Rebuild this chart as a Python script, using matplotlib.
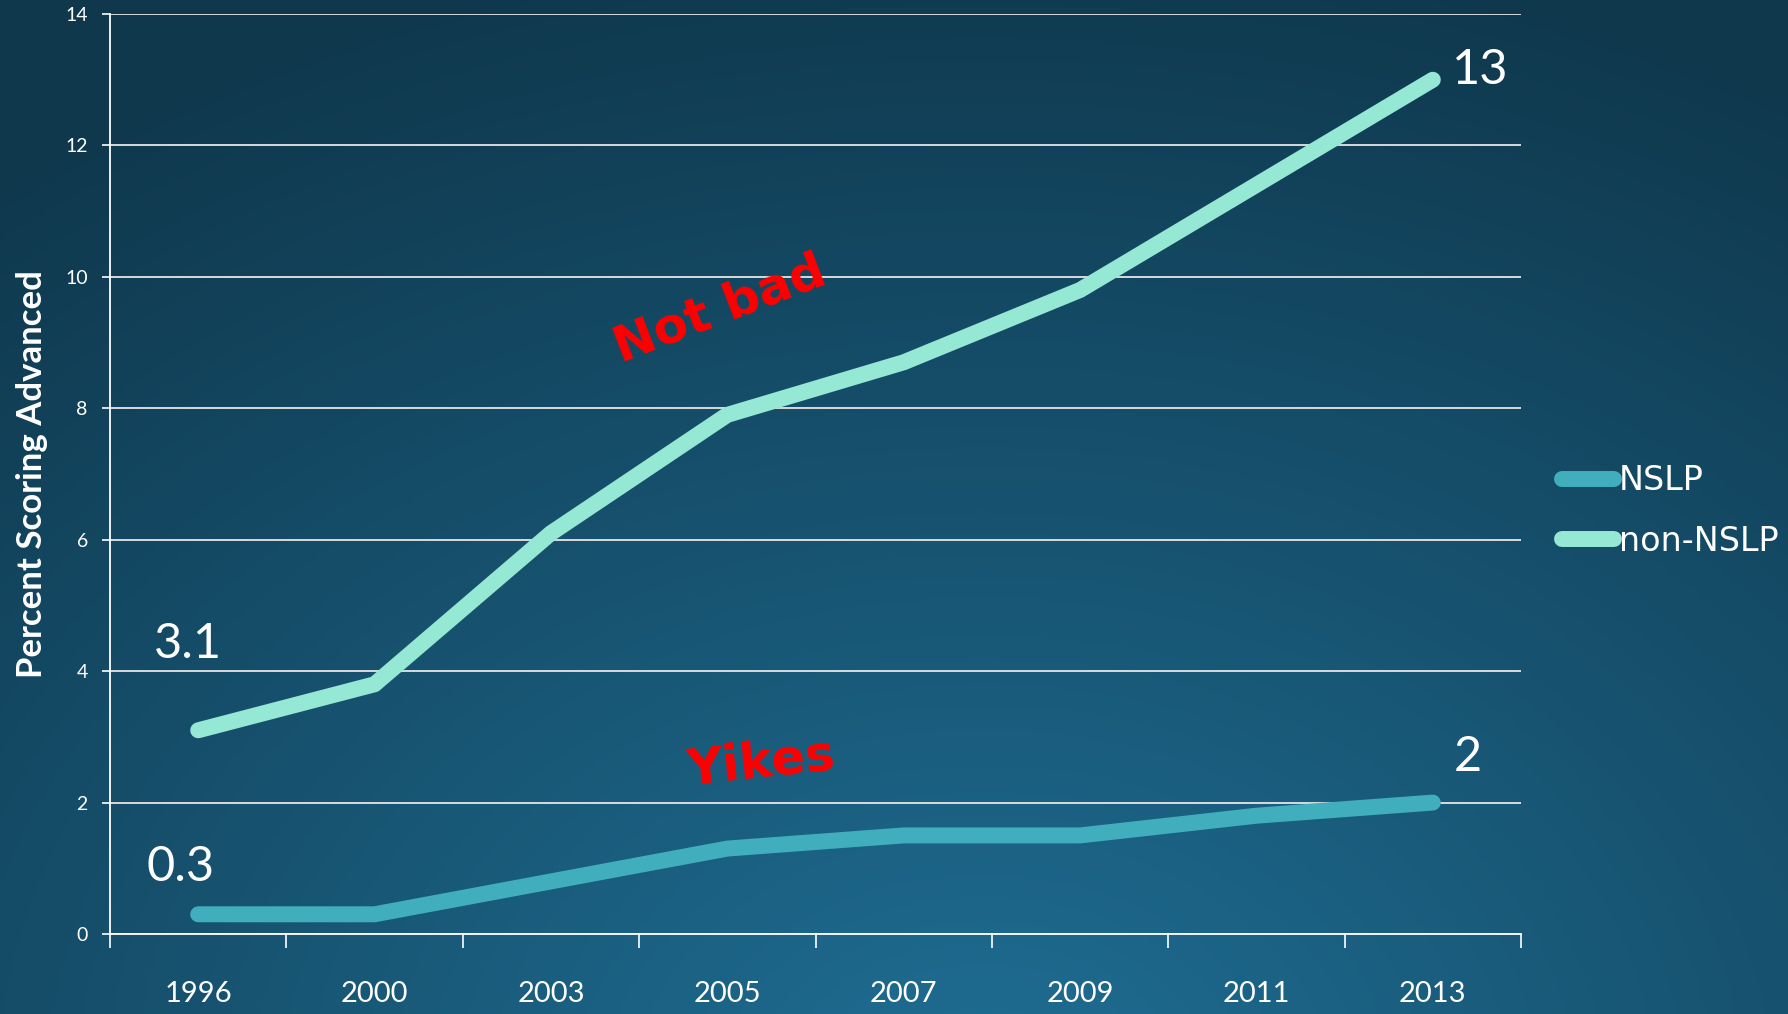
import numpy as np
import matplotlib
matplotlib.use("Agg")
import matplotlib.pyplot as plt
from matplotlib.lines import Line2D

# Survey years and share of students scoring "Advanced" (%)
years = ["1996", "2000", "2003", "2005", "2007", "2009", "2011", "2013"]
nslp = [0.3, 0.3, 0.8, 1.3, 1.5, 1.5, 1.8, 2.0]
non_nslp = [3.1, 3.8, 6.1, 7.9, 8.7, 9.8, 11.4, 13.0]
y_ticks = [0, 2, 4, 6, 8, 10, 12, 14]

NSLP_COLOR = "#41aebd"
NON_NSLP_COLOR = "#94e8d4"

W, H, DPI = 1788, 1014, 100
fig = plt.figure(figsize=(W / DPI, H / DPI), dpi=DPI)

# Radial blue-teal background, lighter toward the bottom centre
bg = fig.add_axes([0, 0, 1, 1])
yy, xx = np.mgrid[0:1:300j, 0:1:500j]
d = np.sqrt(((xx - 0.55) * 1.3) ** 2 + (yy - 1.08) ** 2)
t = np.clip(d / 1.15, 0, 1)[..., None]
inner = np.array([31, 110, 148]) / 255
outer = np.array([15, 56, 77]) / 255
img = inner * (1 - t) + outer * t
bg.imshow(img, extent=[0, 1, 0, 1], origin="upper", aspect="auto")
bg.set_axis_off()

ax = fig.add_axes([110 / W, 1 - 934 / H, 1411 / W, 920 / H])
ax.patch.set_alpha(0)

x = np.arange(len(years))
ax.plot(x, nslp, color=NSLP_COLOR, lw=11.5, solid_capstyle="round",
        solid_joinstyle="round", label="NSLP", zorder=3)
ax.plot(x, non_nslp, color=NON_NSLP_COLOR, lw=11.5, solid_capstyle="round",
        solid_joinstyle="round", label="non-NSLP", zorder=3)

ax.set_xlim(-0.5, len(years) - 0.5)
ax.set_ylim(0, 14)

# Category labels at band centres, tick marks at band boundaries
ax.set_xticks(x)
ax.set_xticklabels(years, fontsize=21, color="white", family="Lato")
ax.tick_params(axis="x", which="major", length=0, pad=34)
ax.set_xticks(np.arange(-0.5, len(years)), minor=True)
ax.tick_params(axis="x", which="minor", length=10, width=1.2, color="white")

ax.set_yticks(y_ticks)
ax.set_yticklabels([str(v) for v in y_ticks], fontsize=14,
                   color="white", family="Lato")
ax.tick_params(axis="y", length=6, width=1.2, color="white", pad=10)

ax.grid(axis="y", color="#e6e6e6", lw=1.3, zorder=1)
ax.set_axisbelow(True)
for s in ["top", "right"]:
    ax.spines[s].set_visible(False)
for s in ["left", "bottom"]:
    ax.spines[s].set_color("white")
    ax.spines[s].set_linewidth(1.3)

ax.set_ylabel("Percent Scoring Advanced", fontsize=25, fontweight="bold",
              color="white", family="Lato", labelpad=12)

# Endpoint value labels
lab_kw = dict(color="white", fontsize=35, family="Lato",
              ha="center", va="center")
ax.text(-0.06, 4.41, f"{non_nslp[0]:g}", **lab_kw)
ax.text(7.27, 13.15, f"{non_nslp[-1]:g}", **lab_kw)
ax.text(-0.1, 1.02, f"{nslp[0]:g}", **lab_kw)
ax.text(7.2, 2.69, f"{nslp[-1]:g}", **lab_kw)

# Commentary
ax.text(2.96, 9.5, "Not bad", color="#ff0000", fontsize=36,
        fontweight="bold", rotation=21, ha="center", va="center")
ax.text(3.19, 2.6, "Yikes", color="#ff0000", fontsize=36,
        fontweight="bold", rotation=6, ha="center", va="center")

handles = [Line2D([], [], color=NSLP_COLOR, lw=11.5, solid_capstyle="round"),
           Line2D([], [], color=NON_NSLP_COLOR, lw=11.5, solid_capstyle="round")]
leg = ax.legend(handles, ["NSLP", "non-NSLP"], loc="center left",
                bbox_to_anchor=(1562 / W, 1 - 511 / H),
                bbox_transform=fig.transFigure, frameon=False,
                fontsize=24, handlelength=1.55, handletextpad=0.15,
                labelspacing=0.82, borderpad=0, borderaxespad=0)
for txt in leg.get_texts():
    txt.set_color("white")

fig.savefig("out.png", dpi=DPI)
